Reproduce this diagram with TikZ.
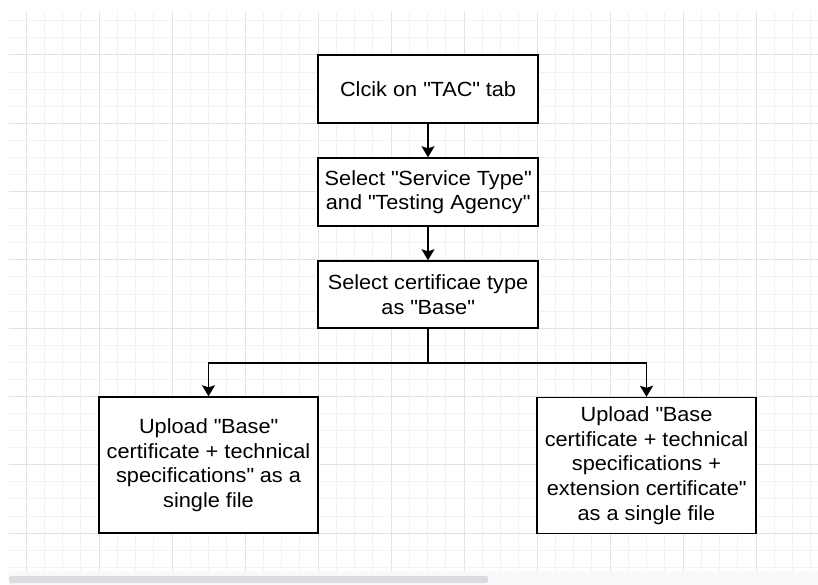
\documentclass[tikz,border=0pt]{standalone}
\usepackage{fontspec}
\setmainfont{Liberation Sans}[FakeStretch=1.06]
\usetikzlibrary{arrows.meta}
\newcommand{\dq}{\textquotedbl{}}
\definecolor{gridmajor}{HTML}{E2E2E2}
\definecolor{gridminor}{HTML}{F2F2F2}
\definecolor{barbg}{HTML}{F8F9FA}
\definecolor{barthumb}{HTML}{DADCE0}
\tikzset{
  stepbox/.style={draw=black, line width=1.4pt, fill=white, align=center,
    font=\fontsize{20.5}{24.6}\selectfont, inner sep=0pt},
  conn/.style={draw=black, line width=1.4pt},
  arr/.style={conn, -{Stealth[length=11pt,width=13pt,inset=2pt]}},
}
\begin{document}
\begin{tikzpicture}[x=1pt,y=-1pt]
\useasboundingbox (0,0) rectangle (818,585);
\fill[white] (0,0) rectangle (818,585);
% grid
\foreach \k in {0,...,43}{
  \pgfmathsetmacro{\gx}{26+18.25*\k}
  \pgfmathtruncatemacro{\gm}{mod(\k,4)}
  \ifnum\gm=0
    \draw[gridmajor, line width=1pt] (\gx,12) -- (\gx,571);
  \else
    \draw[gridminor, line width=1pt] (\gx,12) -- (\gx,571);
  \fi
}
\foreach \k in {-2,...,30}{
  \pgfmathsetmacro{\gy}{55+17.075*\k}
  \pgfmathtruncatemacro{\gm}{mod(\k+8,4)}
  \ifnum\gm=0
    \draw[gridmajor, line width=1pt] (9,\gy) -- (818,\gy);
  \else
    \draw[gridminor, line width=1pt] (9,\gy) -- (818,\gy);
  \fi
}
% scrollbar
\fill[barbg] (9,571) rectangle (818,585);
\fill[barthumb, rounded corners=2pt] (9,576) rectangle (488,583);
% nodes
\node[stepbox, minimum width=220pt, minimum height=68pt] (n1) at (428,89) {Clcik on \dq TAC\dq\ tab};
\node[stepbox, minimum width=220pt, minimum height=68pt] (n2) at (428,192) {Select \dq Service Type\dq\\and \dq Testing Agency\dq};
\node[stepbox, minimum width=220pt, minimum height=67pt] (n3) at (428,294.5) {Select certificae type\\as \dq Base\dq};
\node[stepbox, minimum width=219pt, minimum height=136pt] (n4) at (208.5,465) {Upload \dq Base\dq\\certificate + technical\\specifications\dq\ as a\\single file};
\node[stepbox, minimum width=219pt, minimum height=136pt] (n5) at (646.5,465.5) {Upload \dq Base\\certificate + technical\\specifications +\\extension certificate\dq\\as a single file};
% connectors
\coordinate (split) at (428,363);
\draw[arr] (n1) -- (n2);
\draw[arr] (n2) -- (n3);
\draw[conn] (n3.south) -- (split);
\draw[arr] (split) -| (n4.north);
\draw[arr] (split) -| (n5.north);
\end{tikzpicture}
\end{document}
